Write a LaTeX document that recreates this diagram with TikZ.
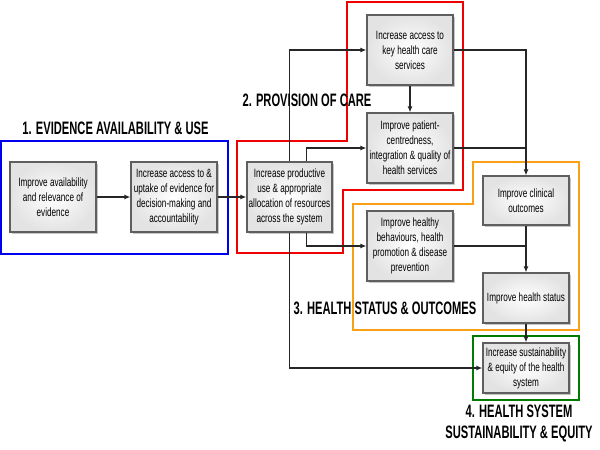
\documentclass[tikz,border=0pt]{standalone}
\usepackage{fontspec}
\setmainfont[FakeStretch=0.68]{Liberation Sans}
\newfontfamily\titlefont[FakeStretch=0.62]{Liberation Sans}
\usetikzlibrary{arrows.meta,shadows}
\definecolor{bblue}{RGB}{0,0,240}
\definecolor{bred}{RGB}{240,0,0}
\definecolor{borange}{RGB}{250,160,20}
\definecolor{bgreen}{RGB}{0,125,0}
\definecolor{bxline}{RGB}{95,95,95}
\tikzset{
  box/.style={draw=bxline, line width=1.2pt, inner color=white, outer color=gray!22,
    drop shadow={shadow xshift=1.6pt, shadow yshift=-1.6pt, opacity=0.45},
    minimum width=86pt, minimum height=70pt, inner sep=0pt, align=center,
    font=\fontsize{12}{15}\selectfont},
  conn/.style={draw=black!85, line width=1.2pt},
  arr/.style={conn, -{Latex[length=6pt,width=5pt]}},
  frame/.style={line width=2.2pt, line join=miter},
  ttl/.style={font=\titlefont\bfseries\fontsize{18}{21}\selectfont, inner sep=0pt, align=center}
}
\begin{document}
\begin{tikzpicture}[x=1pt,y=-1pt]
\useasboundingbox (0,0) rectangle (600,450);
% group frames
\draw[frame, bblue] (1,141) rectangle (228,254);
\draw[frame, bred] (237,141) -- (347,141) -- (347,2) -- (463,2) -- (463,190) -- (343,190) -- (343,253) -- (237,253) -- cycle;
\draw[frame, borange] (473,162) -- (579,162) -- (579,330) -- (353,330) -- (353,204) -- (473,204) -- cycle;
\draw[frame, bgreen] (473,336) rectangle (579,400);
% boxes
\node[box] (A) at (53,197) {Improve availability\\and relevance of\\evidence};
\node[box] (B) at (174,197) {Increase access to \&\\uptake of evidence for\\decision-making and\\accountability};
\node[box, minimum width=85pt] (C) at (289.5,197) {Increase productive\\use \& appropriate\\allocation of resources\\across the system};
\node[box] (D) at (410,50) {Increase access to\\key health care\\services};
\node[box] (E) at (410,148) {Improve patient-\\centredness,\\integration \& quality of\\health services};
\node[box, minimum height=49pt] (F) at (526,200.5) {Improve clinical\\outcomes};
\node[box] (G) at (410,246) {Improve healthy\\behaviours, health\\promotion \& disease\\prevention};
\node[box, minimum height=50pt] (H) at (526,298) {Improve health status};
\node[box, minimum height=50pt] (I) at (526,368) {Increase sustainability\\\& equity of the health\\system};
% connectors
\draw[arr] (A) -- (B);
\draw[arr] (B) -- (C);
\draw[arr] (C.north) |- (D.west);
\draw[arr] ([xshift=17pt]C.north) |- (E.west);
\draw[arr] (D) -- (E);
\draw[arr] (D.east) -| (F.north);
\draw[conn] (E.east) -- (E.east -| F.north);
\draw[arr] ([xshift=17pt]C.south) |- (G.west);
\draw[conn] (G.east) -- (G.east -| H.north);
\draw[arr] (F) -- (H);
\draw[arr] (H) -- (I);
\draw[arr] (C.south) |- (I.west);
% titles
\node[ttl] (t1) at (115.5,128.5) {1. EVIDENCE AVAILABILITY \& USE};
\node[ttl] (t2) at (307,100.5) {2. PROVISION OF CARE};
\node[ttl] (t3) at (385,308) {3. HEALTH STATUS \& OUTCOMES};
\node[ttl, font=\titlefont\bfseries\fontsize{18}{21}\selectfont] (t4) at (519,423) {4. HEALTH SYSTEM\\SUSTAINABILITY \& EQUITY};
\end{tikzpicture}
\end{document}
